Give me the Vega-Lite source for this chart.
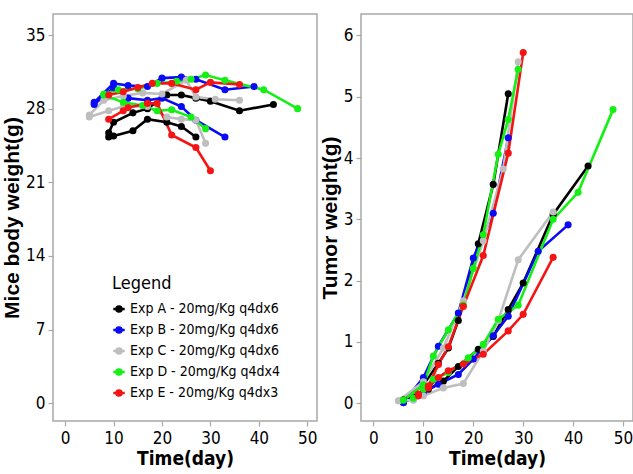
{
  "$schema": "https://vega.github.io/schema/vega-lite/v6.json",
  "padding": {"left": 0, "top": 13, "right": 0, "bottom": 0},
  "spacing": 0,
  "config": {
    "view": {"stroke": "#A8A8A8", "strokeWidth": 1.5},
    "axis": {"domain": false, "grid": false, "tickColor": "#A8A8A8", "tickSize": 5, "tickWidth": 1.2, "labelFont": "DejaVu Sans Condensed, Liberation Sans, sans-serif", "labelColor": "#000000", "titleFont": "Liberation Sans, sans-serif", "titleFontWeight": "bold", "titleColor": "#000000"},
    "axisX": {"labelFontSize": 17, "titleFont": "DejaVu Sans Condensed, Liberation Sans, sans-serif", "titleFontSize": 19, "labelPadding": 4, "titlePadding": 3},
    "axisY": {"labelFontSize": 17, "titleFontSize": 21, "labelPadding": 3, "titlePadding": 3}
  },
  "datasets": {
    "body": [
      {"exp": "Exp A - 20mg/Kg q4dx6", "s": "A1", "day": 9, "w": 25.7},
      {"exp": "Exp A - 20mg/Kg q4dx6", "s": "A1", "day": 10, "w": 26.7},
      {"exp": "Exp A - 20mg/Kg q4dx6", "s": "A1", "day": 14, "w": 27.6},
      {"exp": "Exp A - 20mg/Kg q4dx6", "s": "A1", "day": 17, "w": 28.0},
      {"exp": "Exp A - 20mg/Kg q4dx6", "s": "A1", "day": 21, "w": 29.3},
      {"exp": "Exp A - 20mg/Kg q4dx6", "s": "A1", "day": 24, "w": 29.3},
      {"exp": "Exp A - 20mg/Kg q4dx6", "s": "A1", "day": 27, "w": 29.0},
      {"exp": "Exp A - 20mg/Kg q4dx6", "s": "A1", "day": 30, "w": 28.7},
      {"exp": "Exp A - 20mg/Kg q4dx6", "s": "A1", "day": 36, "w": 27.8},
      {"exp": "Exp A - 20mg/Kg q4dx6", "s": "A1", "day": 43, "w": 28.4},
      {"exp": "Exp A - 20mg/Kg q4dx6", "s": "A2", "day": 9, "w": 25.3},
      {"exp": "Exp A - 20mg/Kg q4dx6", "s": "A2", "day": 10, "w": 25.4},
      {"exp": "Exp A - 20mg/Kg q4dx6", "s": "A2", "day": 14, "w": 25.9},
      {"exp": "Exp A - 20mg/Kg q4dx6", "s": "A2", "day": 17, "w": 27.0},
      {"exp": "Exp A - 20mg/Kg q4dx6", "s": "A2", "day": 21, "w": 26.7},
      {"exp": "Exp A - 20mg/Kg q4dx6", "s": "A2", "day": 24, "w": 26.3},
      {"exp": "Exp A - 20mg/Kg q4dx6", "s": "A2", "day": 27, "w": 25.3},
      {"exp": "Exp B - 20mg/Kg q4dx6", "s": "B1", "day": 6, "w": 28.6},
      {"exp": "Exp B - 20mg/Kg q4dx6", "s": "B1", "day": 10, "w": 30.4},
      {"exp": "Exp B - 20mg/Kg q4dx6", "s": "B1", "day": 13, "w": 30.2},
      {"exp": "Exp B - 20mg/Kg q4dx6", "s": "B1", "day": 17, "w": 30.1},
      {"exp": "Exp B - 20mg/Kg q4dx6", "s": "B1", "day": 20, "w": 30.9},
      {"exp": "Exp B - 20mg/Kg q4dx6", "s": "B1", "day": 24, "w": 31.0},
      {"exp": "Exp B - 20mg/Kg q4dx6", "s": "B1", "day": 27, "w": 30.8},
      {"exp": "Exp B - 20mg/Kg q4dx6", "s": "B1", "day": 33, "w": 29.8},
      {"exp": "Exp B - 20mg/Kg q4dx6", "s": "B1", "day": 39, "w": 30.1},
      {"exp": "Exp B - 20mg/Kg q4dx6", "s": "B2", "day": 6, "w": 28.4},
      {"exp": "Exp B - 20mg/Kg q4dx6", "s": "B2", "day": 10, "w": 30.0},
      {"exp": "Exp B - 20mg/Kg q4dx6", "s": "B2", "day": 13, "w": 29.0},
      {"exp": "Exp B - 20mg/Kg q4dx6", "s": "B2", "day": 17, "w": 28.8},
      {"exp": "Exp B - 20mg/Kg q4dx6", "s": "B2", "day": 20, "w": 29.0},
      {"exp": "Exp B - 20mg/Kg q4dx6", "s": "B2", "day": 24, "w": 28.2},
      {"exp": "Exp B - 20mg/Kg q4dx6", "s": "B2", "day": 27, "w": 26.9},
      {"exp": "Exp B - 20mg/Kg q4dx6", "s": "B2", "day": 33, "w": 25.3},
      {"exp": "Exp C - 20mg/Kg q4dx6", "s": "C1", "day": 5, "w": 27.4},
      {"exp": "Exp C - 20mg/Kg q4dx6", "s": "C1", "day": 8, "w": 28.8},
      {"exp": "Exp C - 20mg/Kg q4dx6", "s": "C1", "day": 12, "w": 29.2},
      {"exp": "Exp C - 20mg/Kg q4dx6", "s": "C1", "day": 16, "w": 29.5},
      {"exp": "Exp C - 20mg/Kg q4dx6", "s": "C1", "day": 20, "w": 29.4},
      {"exp": "Exp C - 20mg/Kg q4dx6", "s": "C1", "day": 25, "w": 30.7},
      {"exp": "Exp C - 20mg/Kg q4dx6", "s": "C1", "day": 27, "w": 29.1},
      {"exp": "Exp C - 20mg/Kg q4dx6", "s": "C1", "day": 31, "w": 28.9},
      {"exp": "Exp C - 20mg/Kg q4dx6", "s": "C1", "day": 36, "w": 28.8},
      {"exp": "Exp C - 20mg/Kg q4dx6", "s": "C2", "day": 5, "w": 27.2},
      {"exp": "Exp C - 20mg/Kg q4dx6", "s": "C2", "day": 9, "w": 27.8},
      {"exp": "Exp C - 20mg/Kg q4dx6", "s": "C2", "day": 12, "w": 28.2},
      {"exp": "Exp C - 20mg/Kg q4dx6", "s": "C2", "day": 17, "w": 28.2},
      {"exp": "Exp C - 20mg/Kg q4dx6", "s": "C2", "day": 21, "w": 27.2},
      {"exp": "Exp C - 20mg/Kg q4dx6", "s": "C2", "day": 24, "w": 27.0},
      {"exp": "Exp C - 20mg/Kg q4dx6", "s": "C2", "day": 27, "w": 26.9},
      {"exp": "Exp C - 20mg/Kg q4dx6", "s": "C2", "day": 29, "w": 24.7},
      {"exp": "Exp D - 20mg/Kg q4dx4", "s": "D1", "day": 8, "w": 29.4},
      {"exp": "Exp D - 20mg/Kg q4dx4", "s": "D1", "day": 11, "w": 29.8},
      {"exp": "Exp D - 20mg/Kg q4dx4", "s": "D1", "day": 15, "w": 29.9},
      {"exp": "Exp D - 20mg/Kg q4dx4", "s": "D1", "day": 19, "w": 30.4},
      {"exp": "Exp D - 20mg/Kg q4dx4", "s": "D1", "day": 23, "w": 30.6},
      {"exp": "Exp D - 20mg/Kg q4dx4", "s": "D1", "day": 26, "w": 30.8},
      {"exp": "Exp D - 20mg/Kg q4dx4", "s": "D1", "day": 29, "w": 31.2},
      {"exp": "Exp D - 20mg/Kg q4dx4", "s": "D1", "day": 33, "w": 30.7},
      {"exp": "Exp D - 20mg/Kg q4dx4", "s": "D1", "day": 41, "w": 29.8},
      {"exp": "Exp D - 20mg/Kg q4dx4", "s": "D1", "day": 48, "w": 28.0},
      {"exp": "Exp D - 20mg/Kg q4dx4", "s": "D2", "day": 8, "w": 29.3},
      {"exp": "Exp D - 20mg/Kg q4dx4", "s": "D2", "day": 12, "w": 28.6},
      {"exp": "Exp D - 20mg/Kg q4dx4", "s": "D2", "day": 16, "w": 28.3},
      {"exp": "Exp D - 20mg/Kg q4dx4", "s": "D2", "day": 19, "w": 27.8},
      {"exp": "Exp D - 20mg/Kg q4dx4", "s": "D2", "day": 22, "w": 27.9},
      {"exp": "Exp D - 20mg/Kg q4dx4", "s": "D2", "day": 26, "w": 27.2},
      {"exp": "Exp D - 20mg/Kg q4dx4", "s": "D2", "day": 29, "w": 26.1},
      {"exp": "Exp E - 20mg/Kg q4dx3", "s": "E1", "day": 9, "w": 29.3},
      {"exp": "Exp E - 20mg/Kg q4dx3", "s": "E1", "day": 12, "w": 29.6},
      {"exp": "Exp E - 20mg/Kg q4dx3", "s": "E1", "day": 15, "w": 30.0},
      {"exp": "Exp E - 20mg/Kg q4dx3", "s": "E1", "day": 18, "w": 30.4},
      {"exp": "Exp E - 20mg/Kg q4dx3", "s": "E1", "day": 22, "w": 30.4},
      {"exp": "Exp E - 20mg/Kg q4dx3", "s": "E1", "day": 27, "w": 29.8},
      {"exp": "Exp E - 20mg/Kg q4dx3", "s": "E1", "day": 30, "w": 30.5},
      {"exp": "Exp E - 20mg/Kg q4dx3", "s": "E1", "day": 36, "w": 30.3},
      {"exp": "Exp E - 20mg/Kg q4dx3", "s": "E2", "day": 9, "w": 27.0},
      {"exp": "Exp E - 20mg/Kg q4dx3", "s": "E2", "day": 12, "w": 27.8},
      {"exp": "Exp E - 20mg/Kg q4dx3", "s": "E2", "day": 13, "w": 28.1},
      {"exp": "Exp E - 20mg/Kg q4dx3", "s": "E2", "day": 17, "w": 28.5},
      {"exp": "Exp E - 20mg/Kg q4dx3", "s": "E2", "day": 19, "w": 28.5},
      {"exp": "Exp E - 20mg/Kg q4dx3", "s": "E2", "day": 22, "w": 25.5},
      {"exp": "Exp E - 20mg/Kg q4dx3", "s": "E2", "day": 27, "w": 24.3},
      {"exp": "Exp E - 20mg/Kg q4dx3", "s": "E2", "day": 30, "w": 22.1}
    ],
    "tumor": [
      {"exp": "Exp A - 20mg/Kg q4dx6", "s": "A1", "day": 6, "w": 0.05},
      {"exp": "Exp A - 20mg/Kg q4dx6", "s": "A1", "day": 10, "w": 0.3},
      {"exp": "Exp A - 20mg/Kg q4dx6", "s": "A1", "day": 13, "w": 0.65},
      {"exp": "Exp A - 20mg/Kg q4dx6", "s": "A1", "day": 15, "w": 0.9},
      {"exp": "Exp A - 20mg/Kg q4dx6", "s": "A1", "day": 17, "w": 1.35},
      {"exp": "Exp A - 20mg/Kg q4dx6", "s": "A1", "day": 21, "w": 2.6},
      {"exp": "Exp A - 20mg/Kg q4dx6", "s": "A1", "day": 24, "w": 3.57},
      {"exp": "Exp A - 20mg/Kg q4dx6", "s": "A1", "day": 27, "w": 5.05},
      {"exp": "Exp A - 20mg/Kg q4dx6", "s": "A2", "day": 6, "w": 0.05},
      {"exp": "Exp A - 20mg/Kg q4dx6", "s": "A2", "day": 11, "w": 0.23},
      {"exp": "Exp A - 20mg/Kg q4dx6", "s": "A2", "day": 14, "w": 0.36},
      {"exp": "Exp A - 20mg/Kg q4dx6", "s": "A2", "day": 17, "w": 0.6},
      {"exp": "Exp A - 20mg/Kg q4dx6", "s": "A2", "day": 21, "w": 0.88},
      {"exp": "Exp A - 20mg/Kg q4dx6", "s": "A2", "day": 24, "w": 1.09},
      {"exp": "Exp A - 20mg/Kg q4dx6", "s": "A2", "day": 27, "w": 1.53},
      {"exp": "Exp A - 20mg/Kg q4dx6", "s": "A2", "day": 30, "w": 1.96},
      {"exp": "Exp A - 20mg/Kg q4dx6", "s": "A2", "day": 36, "w": 3.08},
      {"exp": "Exp A - 20mg/Kg q4dx6", "s": "A2", "day": 43, "w": 3.87},
      {"exp": "Exp B - 20mg/Kg q4dx6", "s": "B1", "day": 6, "w": 0.01},
      {"exp": "Exp B - 20mg/Kg q4dx6", "s": "B1", "day": 10, "w": 0.42},
      {"exp": "Exp B - 20mg/Kg q4dx6", "s": "B1", "day": 13, "w": 0.93},
      {"exp": "Exp B - 20mg/Kg q4dx6", "s": "B1", "day": 17, "w": 1.47},
      {"exp": "Exp B - 20mg/Kg q4dx6", "s": "B1", "day": 20, "w": 2.37},
      {"exp": "Exp B - 20mg/Kg q4dx6", "s": "B1", "day": 24, "w": 3.1},
      {"exp": "Exp B - 20mg/Kg q4dx6", "s": "B1", "day": 27, "w": 4.33},
      {"exp": "Exp B - 20mg/Kg q4dx6", "s": "B2", "day": 6, "w": 0.01},
      {"exp": "Exp B - 20mg/Kg q4dx6", "s": "B2", "day": 10, "w": 0.17},
      {"exp": "Exp B - 20mg/Kg q4dx6", "s": "B2", "day": 13, "w": 0.31},
      {"exp": "Exp B - 20mg/Kg q4dx6", "s": "B2", "day": 17, "w": 0.47},
      {"exp": "Exp B - 20mg/Kg q4dx6", "s": "B2", "day": 20, "w": 0.72},
      {"exp": "Exp B - 20mg/Kg q4dx6", "s": "B2", "day": 24, "w": 1.1},
      {"exp": "Exp B - 20mg/Kg q4dx6", "s": "B2", "day": 27, "w": 1.42},
      {"exp": "Exp B - 20mg/Kg q4dx6", "s": "B2", "day": 33, "w": 2.48},
      {"exp": "Exp B - 20mg/Kg q4dx6", "s": "B2", "day": 39, "w": 2.91},
      {"exp": "Exp C - 20mg/Kg q4dx6", "s": "C1", "day": 5, "w": 0.04},
      {"exp": "Exp C - 20mg/Kg q4dx6", "s": "C1", "day": 10, "w": 0.35},
      {"exp": "Exp C - 20mg/Kg q4dx6", "s": "C1", "day": 14, "w": 0.9},
      {"exp": "Exp C - 20mg/Kg q4dx6", "s": "C1", "day": 18, "w": 1.67},
      {"exp": "Exp C - 20mg/Kg q4dx6", "s": "C1", "day": 22, "w": 2.65},
      {"exp": "Exp C - 20mg/Kg q4dx6", "s": "C1", "day": 26, "w": 3.82},
      {"exp": "Exp C - 20mg/Kg q4dx6", "s": "C1", "day": 29, "w": 5.57},
      {"exp": "Exp C - 20mg/Kg q4dx6", "s": "C2", "day": 5, "w": 0.04},
      {"exp": "Exp C - 20mg/Kg q4dx6", "s": "C2", "day": 8, "w": 0.05},
      {"exp": "Exp C - 20mg/Kg q4dx6", "s": "C2", "day": 10, "w": 0.12},
      {"exp": "Exp C - 20mg/Kg q4dx6", "s": "C2", "day": 14, "w": 0.25},
      {"exp": "Exp C - 20mg/Kg q4dx6", "s": "C2", "day": 18, "w": 0.32},
      {"exp": "Exp C - 20mg/Kg q4dx6", "s": "C2", "day": 22, "w": 0.85},
      {"exp": "Exp C - 20mg/Kg q4dx6", "s": "C2", "day": 25, "w": 1.35},
      {"exp": "Exp C - 20mg/Kg q4dx6", "s": "C2", "day": 29, "w": 2.34},
      {"exp": "Exp C - 20mg/Kg q4dx6", "s": "C2", "day": 36, "w": 3.12},
      {"exp": "Exp D - 20mg/Kg q4dx4", "s": "D1", "day": 6, "w": 0.05},
      {"exp": "Exp D - 20mg/Kg q4dx4", "s": "D1", "day": 10, "w": 0.3},
      {"exp": "Exp D - 20mg/Kg q4dx4", "s": "D1", "day": 12, "w": 0.77},
      {"exp": "Exp D - 20mg/Kg q4dx4", "s": "D1", "day": 15, "w": 1.2},
      {"exp": "Exp D - 20mg/Kg q4dx4", "s": "D1", "day": 18, "w": 1.6},
      {"exp": "Exp D - 20mg/Kg q4dx4", "s": "D1", "day": 20, "w": 2.2},
      {"exp": "Exp D - 20mg/Kg q4dx4", "s": "D1", "day": 22, "w": 2.75},
      {"exp": "Exp D - 20mg/Kg q4dx4", "s": "D1", "day": 25, "w": 4.06},
      {"exp": "Exp D - 20mg/Kg q4dx4", "s": "D1", "day": 27, "w": 4.63},
      {"exp": "Exp D - 20mg/Kg q4dx4", "s": "D1", "day": 29, "w": 5.45},
      {"exp": "Exp D - 20mg/Kg q4dx4", "s": "D2", "day": 8, "w": 0.08},
      {"exp": "Exp D - 20mg/Kg q4dx4", "s": "D2", "day": 10, "w": 0.23},
      {"exp": "Exp D - 20mg/Kg q4dx4", "s": "D2", "day": 12, "w": 0.39},
      {"exp": "Exp D - 20mg/Kg q4dx4", "s": "D2", "day": 15, "w": 0.5},
      {"exp": "Exp D - 20mg/Kg q4dx4", "s": "D2", "day": 19, "w": 0.74},
      {"exp": "Exp D - 20mg/Kg q4dx4", "s": "D2", "day": 22, "w": 0.96},
      {"exp": "Exp D - 20mg/Kg q4dx4", "s": "D2", "day": 25, "w": 1.37},
      {"exp": "Exp D - 20mg/Kg q4dx4", "s": "D2", "day": 29, "w": 1.6},
      {"exp": "Exp D - 20mg/Kg q4dx4", "s": "D2", "day": 36, "w": 3.0},
      {"exp": "Exp D - 20mg/Kg q4dx4", "s": "D2", "day": 41, "w": 3.44},
      {"exp": "Exp D - 20mg/Kg q4dx4", "s": "D2", "day": 48, "w": 4.79},
      {"exp": "Exp E - 20mg/Kg q4dx3", "s": "E1", "day": 9, "w": 0.15},
      {"exp": "Exp E - 20mg/Kg q4dx3", "s": "E1", "day": 11, "w": 0.28},
      {"exp": "Exp E - 20mg/Kg q4dx3", "s": "E1", "day": 13, "w": 0.63},
      {"exp": "Exp E - 20mg/Kg q4dx3", "s": "E1", "day": 15, "w": 0.92},
      {"exp": "Exp E - 20mg/Kg q4dx3", "s": "E1", "day": 18, "w": 1.58},
      {"exp": "Exp E - 20mg/Kg q4dx3", "s": "E1", "day": 22, "w": 2.41},
      {"exp": "Exp E - 20mg/Kg q4dx3", "s": "E1", "day": 27, "w": 4.08},
      {"exp": "Exp E - 20mg/Kg q4dx3", "s": "E1", "day": 30, "w": 5.72},
      {"exp": "Exp E - 20mg/Kg q4dx3", "s": "E2", "day": 9, "w": 0.12},
      {"exp": "Exp E - 20mg/Kg q4dx3", "s": "E2", "day": 11, "w": 0.25},
      {"exp": "Exp E - 20mg/Kg q4dx3", "s": "E2", "day": 13, "w": 0.42},
      {"exp": "Exp E - 20mg/Kg q4dx3", "s": "E2", "day": 15, "w": 0.53},
      {"exp": "Exp E - 20mg/Kg q4dx3", "s": "E2", "day": 18, "w": 0.64},
      {"exp": "Exp E - 20mg/Kg q4dx3", "s": "E2", "day": 22, "w": 0.8},
      {"exp": "Exp E - 20mg/Kg q4dx3", "s": "E2", "day": 27, "w": 1.18},
      {"exp": "Exp E - 20mg/Kg q4dx3", "s": "E2", "day": 30, "w": 1.45},
      {"exp": "Exp E - 20mg/Kg q4dx3", "s": "E2", "day": 36, "w": 2.38}
    ]
  },
  "resolve": {"scale": {"color": "independent"}, "legend": {"color": "independent"}},
  "hconcat": [
    {
      "width": 264,
      "height": 407,
      "data": {"name": "body"},
      "encoding": {
        "x": {"field": "day", "type": "quantitative", "scale": {"domain": [-2.5, 52], "nice": false, "zero": false}, "axis": {"values": [0, 10, 20, 30, 40, 50], "title": "Time(day)"}},
        "y": {"field": "w", "type": "quantitative", "scale": {"domain": [-1.7, 37], "nice": false, "zero": false}, "axis": {"values": [0, 7, 14, 21, 28, 35], "title": "Mice body weight(g)"}},
        "color": {"field": "exp", "type": "nominal", "scale": {"domain": ["Exp A - 20mg/Kg q4dx6", "Exp B - 20mg/Kg q4dx6", "Exp C - 20mg/Kg q4dx6", "Exp D - 20mg/Kg q4dx4", "Exp E - 20mg/Kg q4dx3"], "range": ["#000000", "#0A0AF5", "#BEBEBE", "#14F014", "#F51414"]},
          "legend": {"orient": "none", "legendX": 59, "legendY": 261, "title": "Legend", "titleFont": "DejaVu Sans Condensed, Liberation Sans, sans-serif", "titleFontSize": 18, "titleFontWeight": "normal", "titleColor": "#000000", "titlePadding": 9, "labelFont": "DejaVu Sans Condensed, Liberation Sans, sans-serif", "labelFontSize": 14, "labelLimit": 400, "labelColor": "#000000", "labelOffset": 4, "rowPadding": 5, "padding": 0, "symbolType": "M-1,0L1,0M0.45,0A0.45,0.45,0,1,1,-0.45,0A0.45,0.45,0,1,1,0.45,0Z", "symbolSize": 130, "symbolStrokeWidth": 2.5}},
        "detail": {"field": "s", "type": "nominal"}
      },
      "layer": [
        {"mark": {"type": "line", "strokeWidth": 2.6}, "encoding": {"order": {"field": "day", "type": "quantitative"}}},
        {"mark": {"type": "point", "filled": true, "size": 50, "opacity": 1}}
      ]
    },
    {
      "width": 272,
      "height": 407,
      "data": {"name": "tumor"},
      "encoding": {
        "x": {"field": "day", "type": "quantitative", "scale": {"domain": [-2.5, 52], "nice": false, "zero": false}, "axis": {"values": [0, 10, 20, 30, 40, 50], "title": "Time(day)"}},
        "y": {"field": "w", "type": "quantitative", "scale": {"domain": [-0.29, 6.35], "nice": false, "zero": false}, "axis": {"values": [0, 1, 2, 3, 4, 5, 6], "title": "Tumor weight(g)"}},
        "color": {"field": "exp", "type": "nominal", "scale": {"domain": ["Exp A - 20mg/Kg q4dx6", "Exp B - 20mg/Kg q4dx6", "Exp C - 20mg/Kg q4dx6", "Exp D - 20mg/Kg q4dx4", "Exp E - 20mg/Kg q4dx3"], "range": ["#000000", "#0A0AF5", "#BEBEBE", "#14F014", "#F51414"]}, "legend": null},
        "detail": {"field": "s", "type": "nominal"}
      },
      "layer": [
        {"mark": {"type": "line", "strokeWidth": 2.6}, "encoding": {"order": {"field": "day", "type": "quantitative"}}},
        {"mark": {"type": "point", "filled": true, "size": 50, "opacity": 1}}
      ]
    }
  ]
}
